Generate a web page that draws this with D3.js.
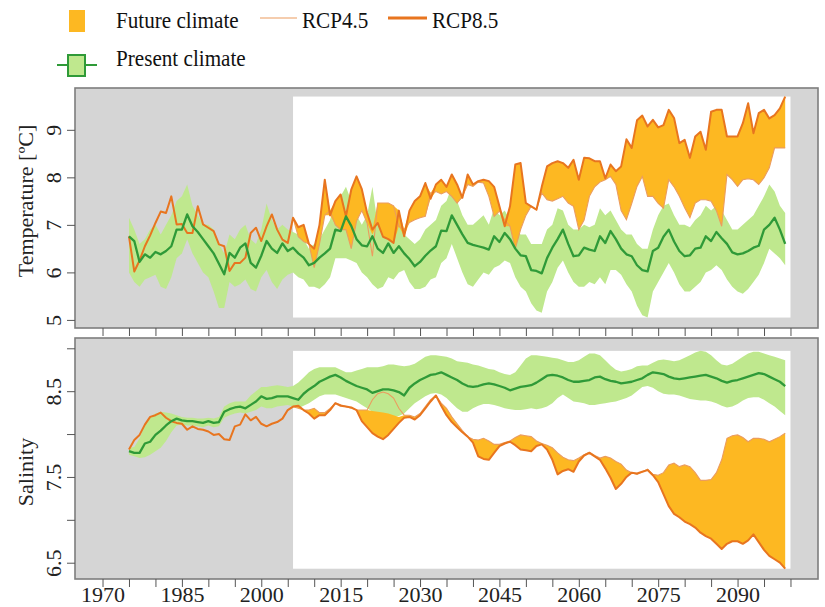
<!DOCTYPE html>
<html>
<head>
<meta charset="utf-8">
<script src="https://cdn.jsdelivr.net/npm/d3@7"></script>
<style>
  body { margin: 0; background: #fff; }
  svg { display: block; font-family: "Liberation Serif", "DejaVu Serif", serif; }
</style>
</head>
<body>
<svg id="chart" width="825" height="607"></svg>
<script>
// ---- data (yearly values) ----
const firstYear = 1975;       // first year of every series
const futureStart = 2006;     // start of the scenario period
const futurePeriod = [2006, 2100];
const xTickYears = d3.range(1970, 2101, 5);
const xLabelYears = [1970, 1985, 2000, 2015, 2030, 2045, 2060, 2075, 2090];

// temperature, present climate (1975-2099)
const tempPresMean = [
  6.76, 6.66, 6.22, 6.38, 6.31,
  6.43, 6.38, 6.45, 6.55, 6.90, 6.90, 7.22, 6.97, 6.85, 6.70,
  6.55, 6.40, 6.18, 5.96, 6.41, 6.31, 6.52, 6.61, 6.20, 6.10,
  6.35, 6.66, 6.50, 6.41, 6.61, 6.45, 6.52, 6.40, 6.31, 6.15,
  6.20, 6.31, 6.40, 6.50, 6.90, 6.87, 7.18, 6.98, 6.70, 6.57,
  6.55, 6.76, 6.50, 6.41, 6.61, 6.41, 6.55, 6.40, 6.28, 6.13,
  6.22, 6.35, 6.46, 6.55, 6.88, 6.87, 7.20, 7.00, 6.80, 6.62,
  6.58, 6.55, 6.52, 6.48, 6.76, 6.64, 6.83, 6.70, 6.50, 6.36,
  6.34, 6.05, 6.03, 5.98, 6.30, 6.52, 6.70, 6.90, 6.60, 6.34,
  6.36, 6.52, 6.48, 6.45, 6.76, 6.62, 6.87, 6.70, 6.50, 6.38,
  6.34, 6.15, 6.05, 6.02, 6.45, 6.52, 6.75, 6.90, 6.65, 6.45,
  6.34, 6.36, 6.50, 6.52, 6.76, 6.66, 6.85, 6.72, 6.60, 6.42,
  6.38, 6.40, 6.45, 6.52, 6.56, 6.90, 7.00, 7.15, 6.90, 6.60
];
const tempPresHi = [
  7.15, 6.90, 6.60, 6.70, 6.90,
  7.00, 6.80, 7.00, 7.20, 7.50, 7.60, 7.85, 7.40, 7.20, 7.00,
  7.00, 6.90, 6.60, 6.40, 6.80, 6.70, 6.90, 7.00, 6.70, 6.60,
  6.90, 7.45, 7.10, 6.90, 7.00, 6.90, 6.85, 6.80, 6.70, 6.50,
  6.60, 6.70, 6.90, 7.10, 7.50, 7.60, 7.80, 7.50, 7.20, 7.00,
  7.20, 7.80, 7.00, 6.90, 7.10, 6.90, 7.00, 6.80, 6.70, 6.60,
  6.70, 6.90, 7.00, 7.10, 7.40, 7.50, 7.80, 7.50, 7.20, 7.00,
  7.00, 7.10, 7.20, 7.00, 7.35, 7.20, 7.30, 7.10, 6.90, 6.80,
  6.80, 6.60, 6.60, 6.60, 6.90, 7.00, 7.35, 7.30, 7.00, 6.90,
  6.90, 7.00, 6.95, 7.00, 7.35, 7.20, 7.30, 7.10, 6.90, 6.80,
  6.80, 6.60, 6.50, 6.50, 6.90, 7.20, 7.40, 7.45, 7.20, 7.00,
  7.00, 6.95, 7.10, 7.20, 7.40, 7.30, 7.40, 7.30, 7.10, 6.90,
  6.90, 7.00, 7.10, 7.20, 7.40, 7.60, 7.85, 7.70, 7.40, 7.25
];
const tempPresLo = [
  6.00, 5.80, 5.70, 5.85, 5.90,
  5.95, 5.70, 5.65, 5.90, 6.30, 6.40, 6.70, 6.40, 6.20, 6.00,
  5.90, 5.60, 5.25, 5.25, 5.80, 5.70, 5.75, 5.85, 5.65, 5.60,
  5.90, 6.05, 5.80, 5.65, 5.85, 5.95, 6.00, 5.90, 5.85, 5.70,
  5.70, 5.65, 5.75, 5.90, 6.30, 6.30, 6.30, 6.25, 6.20, 6.00,
  5.90, 5.75, 5.65, 5.70, 5.90, 5.85, 6.00, 6.05, 5.80, 5.65,
  5.65, 5.70, 5.85, 5.90, 6.20, 6.30, 6.60, 6.30, 6.00, 5.75,
  5.70, 5.85, 6.00, 5.95, 6.10, 6.15, 6.25, 6.20, 5.90, 5.70,
  5.60, 5.35, 5.20, 5.15, 5.60, 5.80, 6.10, 6.25, 6.00, 5.80,
  5.70, 5.70, 5.80, 5.75, 5.90, 5.75, 6.05, 6.05, 5.95, 5.75,
  5.60, 5.30, 5.10, 5.05, 5.60, 5.80, 6.00, 6.20, 6.00, 5.75,
  5.60, 5.60, 5.70, 5.80, 6.00, 6.05, 6.15, 6.05, 5.85, 5.70,
  5.60, 5.55, 5.65, 5.80, 5.95, 6.20, 6.50, 6.40, 6.30, 6.15
];
// temperature, hindcast (1975-2005), same for both scenarios
const tempHist = [
  6.76, 6.02, 6.25, 6.55, 6.78, 7.04, 7.28, 7.25, 7.60, 7.01,
  7.02, 6.83, 6.83, 7.39, 7.01, 6.94, 6.87, 6.59, 6.55, 6.03,
  6.20, 6.20, 6.31, 6.83, 6.94, 6.66, 6.97, 7.22, 6.90, 6.69,
  6.62
];
// temperature, scenarios (2006-2099)
const tempRcp45 = [
  7.15, 6.75, 6.65, 6.60,
  6.10, 6.60, 7.20, 7.30, 7.00, 6.90, 6.90, 6.50, 7.08, 7.30,
  7.04, 6.34, 7.46, 7.46, 7.46, 7.40, 6.97, 6.90, 7.05, 7.11,
  7.15, 7.18, 7.67, 7.70, 7.65, 7.70, 7.60, 7.46, 7.60, 7.85,
  7.81, 7.90, 7.88, 7.60, 7.18, 7.29, 7.10, 6.97, 6.50, 6.90,
  7.20, 7.39, 7.32, 7.67, 7.53, 7.50, 7.55, 7.60, 7.46, 7.39,
  6.90, 7.10, 7.60, 7.80, 7.90, 7.95, 8.02, 7.85, 7.30, 7.11,
  7.45, 7.81, 8.02, 7.60, 7.60, 7.45, 7.35, 7.95, 7.80, 7.60,
  7.36, 7.15, 7.46, 7.53, 7.53, 7.50, 7.30, 6.97, 8.06, 7.95,
  7.81, 7.95, 7.97, 7.95, 7.85, 7.99, 8.20, 8.62, 8.62, 8.62
];
const tempRcp85 = [
  7.15, 6.95, 7.00, 6.60,
  6.50, 7.00, 7.95, 7.20, 7.50, 7.64, 7.18, 7.74, 8.02, 7.75,
  7.25, 6.90, 7.04, 6.75, 6.70, 6.62, 7.30, 6.76, 7.30, 7.50,
  7.60, 7.88, 7.55, 7.85, 7.95, 7.80, 8.06, 7.85, 7.57, 8.06,
  7.85, 7.92, 7.95, 7.92, 7.80, 7.39, 6.97, 7.39, 8.27, 8.30,
  7.46, 7.39, 7.32, 7.80, 8.23, 8.30, 8.34, 8.30, 8.20, 8.37,
  7.95, 8.41, 8.40, 8.34, 8.34, 7.98, 8.27, 8.13, 8.23, 8.80,
  8.62, 9.20, 9.30, 9.07, 9.21, 9.05, 9.10, 9.42, 9.25, 8.72,
  8.79, 8.41, 8.86, 8.96, 8.58, 9.38, 9.42, 9.42, 8.86, 8.86,
  8.86, 9.14, 9.56, 8.93, 9.35, 9.42, 9.24, 9.31, 9.45, 9.70
];
// temperature, future climate range (2006-2099)
const tempFutLo = [
  7.15, 6.75, 6.65, 6.60,
  6.10, 6.60, 7.20, 7.20, 7.00, 6.90, 6.90, 6.50, 7.08, 7.30,
  7.04, 6.80, 7.04, 6.75, 6.70, 6.62, 6.97, 6.76, 7.05, 7.11,
  7.15, 7.18, 7.55, 7.70, 7.65, 7.70, 7.60, 7.46, 7.57, 7.85,
  7.81, 7.90, 7.88, 7.60, 7.18, 7.29, 6.97, 6.97, 6.50, 6.90,
  7.20, 7.39, 7.32, 7.67, 7.53, 7.50, 7.55, 7.60, 7.46, 7.39,
  6.90, 7.10, 7.60, 7.80, 7.90, 7.95, 8.02, 7.85, 7.30, 7.11,
  7.45, 7.81, 8.02, 7.60, 7.60, 7.45, 7.35, 7.95, 7.80, 7.60,
  7.36, 7.15, 7.46, 7.53, 7.53, 7.50, 7.30, 6.97, 8.06, 7.95,
  7.81, 7.95, 7.97, 7.95, 7.85, 7.99, 8.20, 8.62, 8.62, 8.62
];
const tempFutHi = [
  7.15, 6.95, 7.00, 6.60,
  6.50, 7.00, 7.95, 7.30, 7.50, 7.64, 7.18, 7.74, 8.02, 7.75,
  7.25, 6.90, 7.46, 7.46, 7.46, 7.40, 7.30, 6.90, 7.30, 7.50,
  7.60, 7.88, 7.67, 7.85, 7.95, 7.80, 8.06, 7.85, 7.60, 8.06,
  7.85, 7.92, 7.95, 7.92, 7.80, 7.39, 7.10, 7.39, 8.27, 8.30,
  7.46, 7.39, 7.32, 7.80, 8.23, 8.30, 8.34, 8.30, 8.20, 8.37,
  7.95, 8.41, 8.40, 8.34, 8.34, 7.98, 8.27, 8.13, 8.23, 8.80,
  8.62, 9.20, 9.30, 9.07, 9.21, 9.05, 9.10, 9.42, 9.25, 8.72,
  8.79, 8.41, 8.86, 8.96, 8.58, 9.38, 9.42, 9.42, 8.86, 8.86,
  8.86, 9.14, 9.56, 8.93, 9.35, 9.42, 9.24, 9.31, 9.45, 9.70
];

// salinity, present climate (1975-2099)
const salPresMean = [
  7.80, 7.78, 7.78, 7.89, 7.91,
  7.99, 8.04, 8.10, 8.15, 8.18, 8.16, 8.15, 8.15, 8.14, 8.13,
  8.15, 8.13, 8.14, 8.26, 8.29, 8.31, 8.32, 8.30, 8.34, 8.38,
  8.44, 8.41, 8.42, 8.44, 8.44, 8.44, 8.42, 8.40, 8.47, 8.52,
  8.56, 8.61, 8.64, 8.67, 8.69, 8.66, 8.62, 8.59, 8.56, 8.54,
  8.52, 8.48, 8.50, 8.52, 8.52, 8.51, 8.49, 8.45, 8.54, 8.59,
  8.63, 8.66, 8.69, 8.70, 8.72, 8.69, 8.66, 8.63, 8.59, 8.56,
  8.55, 8.56, 8.58, 8.59, 8.58, 8.56, 8.54, 8.51, 8.53, 8.55,
  8.56, 8.57, 8.60, 8.64, 8.68, 8.69, 8.68, 8.66, 8.63, 8.61,
  8.61, 8.62, 8.63, 8.66, 8.67, 8.64, 8.62, 8.61, 8.59, 8.60,
  8.61, 8.63, 8.65, 8.69, 8.72, 8.71, 8.70, 8.67, 8.65, 8.64,
  8.65, 8.66, 8.67, 8.68, 8.69, 8.67, 8.65, 8.62, 8.60, 8.62,
  8.63, 8.65, 8.67, 8.69, 8.71, 8.70, 8.67, 8.64, 8.61, 8.56
];
const salPresHi = [
  7.84, 7.85, 7.95, 8.10, 8.20,
  8.24, 8.26, 8.25, 8.24, 8.22, 8.20, 8.19, 8.19, 8.18, 8.18,
  8.19, 8.18, 8.20, 8.32, 8.36, 8.38, 8.38, 8.38, 8.45, 8.50,
  8.55, 8.55, 8.56, 8.57, 8.56, 8.55, 8.56, 8.60, 8.66, 8.72,
  8.76, 8.78, 8.78, 8.78, 8.78, 8.75, 8.72, 8.72, 8.74, 8.76,
  8.78, 8.78, 8.78, 8.79, 8.81, 8.81, 8.80, 8.79, 8.80, 8.82,
  8.86, 8.90, 8.92, 8.92, 8.91, 8.90, 8.88, 8.85, 8.84, 8.83,
  8.81, 8.80, 8.78, 8.76, 8.75, 8.72, 8.70, 8.69, 8.72, 8.80,
  8.88, 8.92, 8.92, 8.91, 8.90, 8.89, 8.88, 8.86, 8.84, 8.84,
  8.86, 8.90, 8.94, 8.94, 8.92, 8.86, 8.80, 8.75, 8.73, 8.74,
  8.76, 8.79, 8.80, 8.80, 8.83, 8.86, 8.87, 8.86, 8.85, 8.86,
  8.89, 8.92, 8.95, 8.97, 8.96, 8.92, 8.86, 8.81, 8.80, 8.82,
  8.86, 8.90, 8.94, 8.96, 8.96, 8.94, 8.92, 8.90, 8.88, 8.86
];
const salPresLo = [
  7.76, 7.74, 7.72, 7.73, 7.76,
  7.80, 7.84, 7.92, 8.02, 8.10, 8.11, 8.10, 8.10, 8.09, 8.08,
  8.10, 8.08, 8.09, 8.19, 8.22, 8.24, 8.25, 8.24, 8.26, 8.28,
  8.32, 8.30, 8.30, 8.32, 8.33, 8.34, 8.32, 8.30, 8.33, 8.36,
  8.40, 8.44, 8.46, 8.46, 8.46, 8.44, 8.42, 8.40, 8.38, 8.34,
  8.30, 8.26, 8.22, 8.20, 8.20, 8.20, 8.21, 8.24, 8.30, 8.36,
  8.40, 8.44, 8.47, 8.48, 8.46, 8.42, 8.36, 8.30, 8.26, 8.26,
  8.30, 8.33, 8.35, 8.35, 8.34, 8.32, 8.30, 8.29, 8.28, 8.28,
  8.29, 8.30, 8.29, 8.30, 8.32, 8.36, 8.42, 8.46, 8.42, 8.38,
  8.37, 8.36, 8.34, 8.34, 8.35, 8.36, 8.37, 8.38, 8.40, 8.42,
  8.45, 8.50, 8.55, 8.56, 8.54, 8.50, 8.47, 8.46, 8.46, 8.45,
  8.43, 8.41, 8.40, 8.39, 8.39, 8.38, 8.36, 8.33, 8.31, 8.32,
  8.35, 8.39, 8.42, 8.43, 8.43, 8.40, 8.36, 8.32, 8.27, 8.22
];
// salinity, hindcast (1975-2005)
const salHist = [
  7.82, 7.93, 7.99, 8.11, 8.20, 8.22, 8.25, 8.19, 8.15, 8.13,
  8.12, 8.05, 8.09, 8.06, 8.05, 8.03, 7.99, 8.00, 7.94, 7.93,
  8.09, 8.11, 8.23, 8.16, 8.20, 8.12, 8.09, 8.12, 8.14, 8.18,
  8.28
];
// salinity, scenarios (2006-2099)
const salRcp45 = [
  8.32, 8.30, 8.28, 8.28,
  8.30, 8.25, 8.25, 8.30, 8.36, 8.34, 8.32, 8.30, 8.28, 8.28,
  8.28, 8.40, 8.47, 8.49, 8.47, 8.42, 8.30, 8.22, 8.22, 8.20,
  8.24, 8.32, 8.40, 8.45, 8.36, 8.30, 8.20, 8.12, 8.04, 7.97,
  7.94, 7.93, 7.95, 7.92, 7.88, 7.88, 7.90, 7.92, 7.96, 7.99,
  7.98, 7.97, 7.92, 7.89, 7.87, 7.84, 7.78, 7.73, 7.70, 7.69,
  7.72, 7.76, 7.79, 7.75, 7.72, 7.74, 7.72, 7.68, 7.65, 7.58,
  7.55, 7.53, 7.56, 7.59, 7.53, 7.52, 7.55, 7.64, 7.66, 7.62,
  7.64, 7.62, 7.55, 7.46, 7.46, 7.47, 7.55, 7.70, 7.95, 7.98,
  7.99, 7.96, 7.91, 7.95, 7.95, 7.94, 7.91, 7.94, 7.97, 8.01
];
const salRcp85 = [
  8.32, 8.33, 8.28, 8.24,
  8.18, 8.22, 8.22, 8.28, 8.36, 8.33, 8.32, 8.31, 8.28, 8.15,
  8.08, 8.01, 7.97, 7.94, 7.99, 8.06, 8.13, 8.19, 8.20, 8.17,
  8.22, 8.30, 8.38, 8.45, 8.33, 8.22, 8.14, 8.08, 8.02, 7.97,
  7.90, 7.74, 7.71, 7.70, 7.78, 7.86, 7.89, 7.91, 7.87, 7.82,
  7.81, 7.80, 7.86, 7.88, 7.82, 7.70, 7.53, 7.57, 7.59, 7.56,
  7.68, 7.75, 7.78, 7.74, 7.70, 7.60, 7.49, 7.36, 7.42, 7.50,
  7.55, 7.54, 7.56, 7.58, 7.52, 7.44, 7.30, 7.16, 7.07, 7.03,
  6.98, 6.95, 6.91, 6.85, 6.81, 6.78, 6.72, 6.66, 6.72, 6.75,
  6.75, 6.72, 6.76, 6.83, 6.74, 6.65, 6.58, 6.54, 6.50, 6.43
];
// salinity, future climate range (2006-2099)
const salFutLo = [
  8.32, 8.30, 8.28, 8.24,
  8.18, 8.22, 8.22, 8.28, 8.36, 8.33, 8.32, 8.30, 8.28, 8.15,
  8.08, 8.01, 7.97, 7.94, 7.99, 8.06, 8.13, 8.19, 8.20, 8.17,
  8.22, 8.30, 8.38, 8.45, 8.33, 8.22, 8.14, 8.08, 8.02, 7.97,
  7.90, 7.74, 7.71, 7.70, 7.78, 7.86, 7.89, 7.91, 7.87, 7.82,
  7.81, 7.80, 7.86, 7.88, 7.82, 7.70, 7.53, 7.57, 7.59, 7.56,
  7.68, 7.75, 7.78, 7.74, 7.70, 7.60, 7.49, 7.36, 7.42, 7.50,
  7.55, 7.53, 7.56, 7.58, 7.52, 7.44, 7.30, 7.16, 7.07, 7.03,
  6.98, 6.95, 6.91, 6.85, 6.81, 6.78, 6.72, 6.66, 6.72, 6.75,
  6.75, 6.72, 6.76, 6.83, 6.74, 6.65, 6.58, 6.54, 6.50, 6.43
];
const salFutHi = [
  8.32, 8.33, 8.28, 8.28,
  8.30, 8.25, 8.25, 8.30, 8.36, 8.34, 8.32, 8.31, 8.28, 8.28,
  8.28, 8.27, 8.26, 8.25, 8.24, 8.22, 8.20, 8.22, 8.22, 8.20,
  8.24, 8.32, 8.40, 8.45, 8.36, 8.30, 8.20, 8.12, 8.04, 7.97,
  7.94, 7.93, 7.95, 7.92, 7.88, 7.88, 7.90, 7.92, 7.96, 7.99,
  7.98, 7.97, 7.92, 7.89, 7.87, 7.84, 7.78, 7.73, 7.70, 7.69,
  7.72, 7.76, 7.79, 7.75, 7.72, 7.74, 7.72, 7.68, 7.65, 7.58,
  7.55, 7.54, 7.56, 7.59, 7.53, 7.52, 7.55, 7.64, 7.66, 7.62,
  7.64, 7.62, 7.55, 7.46, 7.46, 7.47, 7.55, 7.70, 7.95, 7.98,
  7.99, 7.96, 7.91, 7.95, 7.95, 7.94, 7.91, 7.94, 7.97, 8.01
];

// ---- colours ----
const grayBg = "#d5d5d5";
const greenBand = "#bfe88e";
const greenLine = "#2f9a38";
const orangeFill = "#fdb822";
const rcp85Color = "#e8751f";
const rcp45Color = "#eb9c5e";

const svg = d3.select("#chart");

// common x scale (R style 4% padding around 1970-2100)
const x = d3.scaleLinear().domain([1964.8, 2105.2]).range([75, 818]);

function toPoints(start, vals) {
    return vals.map((v, i) => ({ year: start + i, v }));
}
function toBand(start, lo, hi) {
    return lo.map((v, i) => ({ year: start + i, lo: v, hi: hi[i] }));
}

function drawPanel(p) {
    const y = d3.scaleLinear().domain(p.yDomain).range([p.bottom, p.top]);
    const g = svg.append("g");

    // grey background, white scenario window
    g.append("rect")
        .attr("x", 75).attr("y", p.top)
        .attr("width", 818 - 75).attr("height", p.bottom - p.top)
        .attr("fill", grayBg);

    const offset = futureStart - firstYear;
    const futVals = [].concat(p.futLo, p.futHi, p.rcp45, p.rcp85,
        p.presLo.slice(offset), p.presHi.slice(offset));
    const [fMin, fMax] = d3.extent(futVals);
    g.append("rect")
        .attr("x", x(futurePeriod[0]))
        .attr("y", y(fMax))
        .attr("width", x(futurePeriod[1]) - x(futurePeriod[0]))
        .attr("height", y(fMin) - y(fMax))
        .attr("fill", "#fff");

    const area = d3.area()
        .x(d => x(d.year)).y0(d => y(d.lo)).y1(d => y(d.hi));
    const line = d3.line()
        .x(d => x(d.year)).y(d => y(d.v));

    // present climate range
    g.append("path")
        .datum(toBand(firstYear, p.presLo, p.presHi))
        .attr("fill", greenBand)
        .attr("d", area);

    // future climate range
    g.append("path")
        .datum(toBand(futureStart, p.futLo, p.futHi))
        .attr("fill", orangeFill)
        .attr("d", area);

    // RCP4.5 (thin), joined to the end of the hindcast
    const histPts = toPoints(firstYear, p.hist);
    g.append("path")
        .datum([histPts[histPts.length - 1]].concat(toPoints(futureStart, p.rcp45)))
        .attr("fill", "none")
        .attr("stroke", rcp45Color)
        .attr("stroke-width", 1.1)
        .attr("d", line);

    // hindcast + RCP8.5 (thick)
    g.append("path")
        .datum(histPts.concat(toPoints(futureStart, p.rcp85)))
        .attr("fill", "none")
        .attr("stroke", rcp85Color)
        .attr("stroke-width", 2)
        .attr("stroke-linejoin", "round")
        .attr("d", line);

    // present climate mean
    g.append("path")
        .datum(toPoints(firstYear, p.presMean))
        .attr("fill", "none")
        .attr("stroke", greenLine)
        .attr("stroke-width", 2.3)
        .attr("stroke-linejoin", "round")
        .attr("d", line);

    // frame
    g.append("rect")
        .attr("x", 75).attr("y", p.top)
        .attr("width", 818 - 75).attr("height", p.bottom - p.top)
        .attr("fill", "none")
        .attr("stroke", "#7d7d7d")
        .attr("stroke-width", 1.6);

    // y axis
    const yAxis = svg.append("g")
        .attr("transform", "translate(75,0)")
        .call(d3.axisLeft(y)
            .tickValues(p.yTicks)
            .tickSize(8)
            .tickFormat(d => p.yLabels.includes(d) ? String(d) : ""));
    yAxis.attr("font-family", null);
    yAxis.select(".domain").remove();
    yAxis.selectAll(".tick line").attr("stroke", "#555");
    yAxis.selectAll(".tick text")
        .attr("transform", "rotate(-90)")
        .attr("x", 0).attr("y", -14).attr("dy", 0)
        .style("text-anchor", "middle")
        .style("font-size", "22px")
        .attr("fill", "#222");

    // x axis
    const xAxis = svg.append("g")
        .attr("transform", `translate(0,${p.bottom})`)
        .call(d3.axisBottom(x)
            .tickValues(xTickYears)
            .tickSize(8)
            .tickFormat(d => p.xLabels && xLabelYears.includes(d) ? String(d) : ""));
    xAxis.attr("font-family", null);
    xAxis.select(".domain").remove();
    xAxis.selectAll(".tick line").attr("stroke", "#555");
    xAxis.selectAll(".tick text")
        .attr("y", 7)
        .style("font-size", "22px")
        .attr("fill", "#222");

    // y title
    svg.append("text")
        .attr("transform", `translate(33,${p.titleY}) rotate(-90)`)
        .attr("text-anchor", "middle")
        .style("font-size", "22px")
        .attr("fill", "#222")
        .text(p.title);
}

drawPanel({
    top: 88, bottom: 328,
    yDomain: [4.83, 9.88],
    yTicks: [5, 6, 7, 8, 9], yLabels: [5, 6, 7, 8, 9],
    title: "Temperature [ºC]", titleY: 201,
    presMean: tempPresMean, presLo: tempPresLo, presHi: tempPresHi,
    hist: tempHist, rcp45: tempRcp45, rcp85: tempRcp85,
    futLo: tempFutLo, futHi: tempFutHi,
    xLabels: false
});

drawPanel({
    top: 338, bottom: 579,
    yDomain: [6.31, 9.12],
    yTicks: [6.5, 7, 7.5, 8, 8.5, 9], yLabels: [6.5, 7.5, 8.5],
    title: "Salinity", titleY: 472,
    presMean: salPresMean, presLo: salPresLo, presHi: salPresHi,
    hist: salHist, rcp45: salRcp45, rcp85: salRcp85,
    futLo: salFutLo, futHi: salFutHi,
    xLabels: true
});

// ---- legend ----
const legend = svg.append("g")
    .style("font-size", "23px")
    .attr("fill", "#111");

// the legend type is set a little narrow, as in the figure
function legendText(px, py, label) {
    legend.append("text")
        .attr("transform", `translate(${px},${py}) scale(0.92,1)`)
        .text(label);
}

legend.append("rect")
    .attr("x", 69).attr("y", 10).attr("width", 16).attr("height", 22)
    .attr("fill", orangeFill);
legendText(116, 28, "Future climate");

legend.append("line")
    .attr("x1", 260).attr("x2", 297).attr("y1", 18).attr("y2", 18)
    .attr("stroke", rcp45Color).attr("stroke-width", 1.1);
legendText(302, 28, "RCP4.5");

legend.append("line")
    .attr("x1", 388).attr("x2", 427).attr("y1", 18).attr("y2", 18)
    .attr("stroke", rcp85Color).attr("stroke-width", 3);
legendText(432, 28, "RCP8.5");

legend.append("line")
    .attr("x1", 57).attr("x2", 97).attr("y1", 65).attr("y2", 65)
    .attr("stroke", greenLine).attr("stroke-width", 2);
legend.append("rect")
    .attr("x", 68).attr("y", 55).attr("width", 17).attr("height", 21)
    .attr("fill", greenBand).attr("stroke", greenLine).attr("stroke-width", 2);
legendText(116, 66, "Present climate");
</script>
</body>
</html>
